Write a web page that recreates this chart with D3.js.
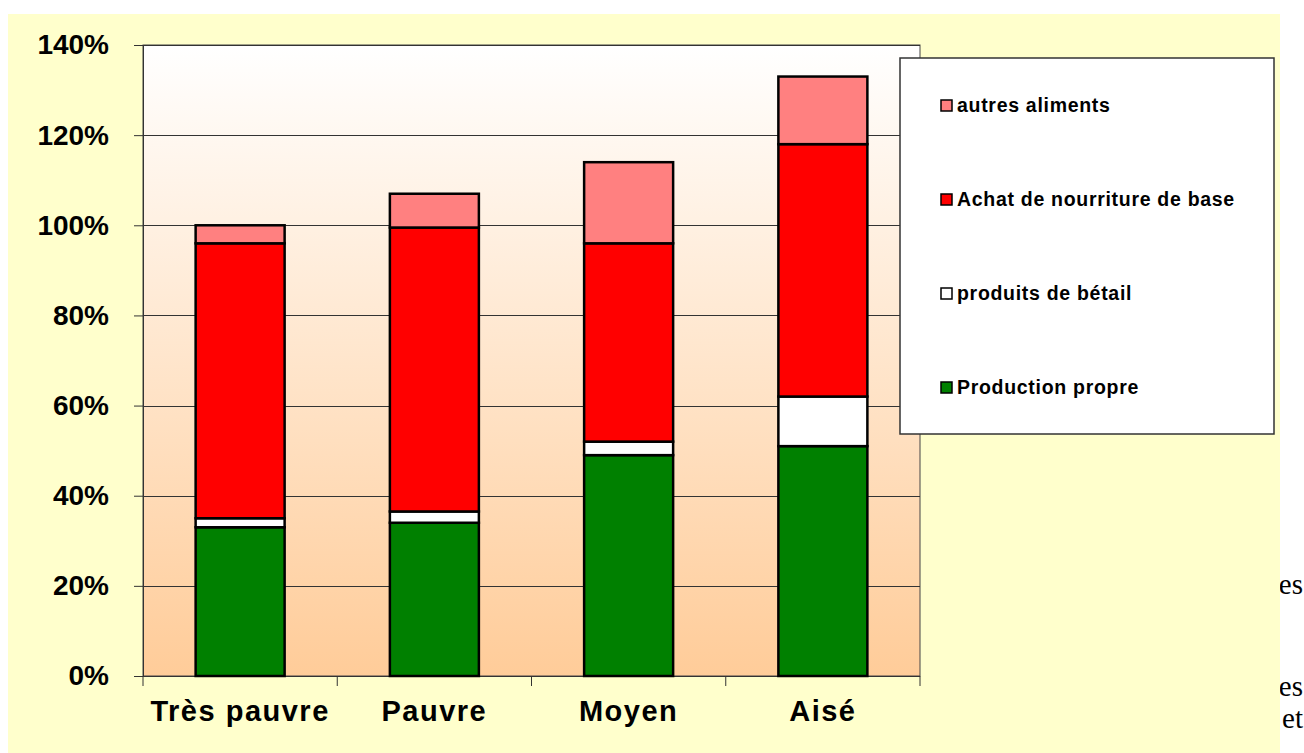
<!DOCTYPE html>
<html>
<head>
<meta charset="utf-8">
<script src="https://cdn.jsdelivr.net/npm/d3@7"></script>
<style>
  body { margin: 0; background: #ffffff; }
  svg { display: block; }
</style>
</head>
<body>
<svg id="chart-container" width="1304" height="753"></svg>
<script>
// Data
var categories = ["Très pauvre", "Pauvre", "Moyen", "Aisé"];
var productionPropre = [0.33, 0.34, 0.49, 0.51];
var produitsBetail = [0.02, 0.025, 0.03, 0.11];
var achatBase = [0.61, 0.63, 0.44, 0.56];
var autresAliments = [0.04, 0.075, 0.18, 0.15];
var seriesNames = ["Production propre", "produits de bétail", "Achat de nourriture de base", "autres aliments"];
var seriesColors = ["#008000", "#ffffff", "#ff0000", "#ff8080"];
var yTicks = [0, 0.2, 0.4, 0.6, 0.8, 1.0, 1.2, 1.4];

var table = categories.map((c, i) => ({
    cat: c,
    s0: productionPropre[i],
    s1: produitsBetail[i],
    s2: achatBase[i],
    s3: autresAliments[i]
}));
var keys = ["s0", "s1", "s2", "s3"];
var stacked = d3.stack().keys(keys)(table);

var svg = d3.select("#chart-container");

// slide text behind the chart (cut off at the right)
var slideText = svg.append("g")
    .attr("font-family", "'Liberation Serif', 'Times New Roman', serif")
    .attr("font-size", 29)
    .attr("fill", "#000")
    .attr("text-anchor", "end");
slideText.append("text").attr("x", 1303).attr("y", 594).text("es");
slideText.append("text").attr("x", 1303).attr("y", 696).text("es");
slideText.append("text").attr("x", 1303).attr("y", 728).text("et");

// chart area background
svg.append("rect")
    .attr("x", 8).attr("y", 14)
    .attr("width", 1272).attr("height", 753 - 14)
    .attr("fill", "#ffffcc");

var margin = { left: 143, top: 45, right: 920, bottom: 676 };

var x = d3.scaleBand()
    .domain(categories)
    .range([margin.left, margin.right])
    .paddingInner(0)
    .paddingOuter(0);

var y = d3.scaleLinear()
    .domain([0, 1.4])
    .range([margin.bottom, margin.top]);

// plot gradient
var defs = svg.append("defs");
var grad = defs.append("linearGradient")
    .attr("id", "plotGrad")
    .attr("x1", 0).attr("y1", 0).attr("x2", 0).attr("y2", 1);
grad.append("stop").attr("offset", "0%").attr("stop-color", "#ffffff");
grad.append("stop").attr("offset", "100%").attr("stop-color", "#ffcc99");

svg.append("rect")
    .attr("x", margin.left).attr("y", margin.top)
    .attr("width", margin.right - margin.left)
    .attr("height", margin.bottom - margin.top)
    .attr("fill", "url(#plotGrad)")
    .attr("stroke", "#444")
    .attr("stroke-width", 1);

// gridlines
svg.append("g")
    .selectAll("line")
    .data(yTicks)
    .join("line")
    .attr("x1", margin.left).attr("x2", margin.right)
    .attr("y1", d => Math.round(y(d)) + 0.5)
    .attr("y2", d => Math.round(y(d)) + 0.5)
    .attr("stroke", "#333")
    .attr("stroke-width", 1);

// y axis
var yAxis = d3.axisLeft(y)
    .tickValues(yTicks)
    .tickFormat(d3.format(".0%"))
    .tickSize(9)
    .tickPadding(25);

var yG = svg.append("g")
    .attr("transform", `translate(${margin.left},0)`)
    .call(yAxis);
yG.select(".domain").attr("stroke", "#333");
yG.selectAll(".tick line").attr("stroke", "#333");
yG.selectAll(".tick text")
    .attr("font-family", "'Liberation Sans', Arial, sans-serif")
    .attr("font-weight", "bold")
    .attr("font-size", 28)
    .attr("fill", "#000");

// x axis: ticks at band edges
var xEdges = categories.map(c => x(c)).concat([margin.right]);
svg.append("line")
    .attr("x1", margin.left).attr("x2", margin.right)
    .attr("y1", margin.bottom + 0.5).attr("y2", margin.bottom + 0.5)
    .attr("stroke", "#333");
svg.append("g")
    .selectAll("line")
    .data(xEdges)
    .join("line")
    .attr("x1", d => d).attr("x2", d => d)
    .attr("y1", margin.bottom).attr("y2", margin.bottom + 10)
    .attr("stroke", "#333");
svg.append("g")
    .selectAll("text")
    .data(categories)
    .join("text")
    .attr("x", d => x(d) + x.bandwidth() / 2)
    .attr("y", 721)
    .attr("text-anchor", "middle")
    .attr("font-family", "'Liberation Sans', Arial, sans-serif")
    .attr("font-weight", "bold")
    .attr("font-size", 29)
    .attr("letter-spacing", 1.5)
    .attr("fill", "#000")
    .text(d => d);

// bars
var barW = 89;
svg.append("g")
    .selectAll("g")
    .data(stacked)
    .join("g")
    .attr("fill", (d, i) => seriesColors[i])
    .selectAll("rect")
    .data(d => d)
    .join("rect")
    .attr("x", d => x(d.data.cat) + x.bandwidth() / 2 - barW / 2)
    .attr("y", d => y(d[1]))
    .attr("width", barW)
    .attr("height", d => y(d[0]) - y(d[1]))
    .attr("stroke", "#000")
    .attr("stroke-width", 2.5);

// legend
var legend = svg.append("g");
legend.append("rect")
    .attr("x", 900).attr("y", 58)
    .attr("width", 374).attr("height", 376)
    .attr("fill", "#ffffff")
    .attr("stroke", "#333")
    .attr("stroke-width", 1.5);

var legendOrder = [3, 2, 1, 0];
var legendY = [105, 199, 293, 387];
legendOrder.forEach((si, row) => {
    legend.append("rect")
        .attr("x", 941).attr("y", legendY[row] - 5)
        .attr("width", 11).attr("height", 11)
        .attr("fill", seriesColors[si])
        .attr("stroke", "#000")
        .attr("stroke-width", 1.5);
    legend.append("text")
        .attr("x", 957).attr("y", legendY[row] + 7)
        .attr("font-family", "'Liberation Sans', Arial, sans-serif")
        .attr("font-weight", "bold")
        .attr("font-size", 19.5)
        .attr("letter-spacing", 0.7)
        .attr("fill", "#000")
        .text(seriesNames[si]);
});
</script>
</body>
</html>
